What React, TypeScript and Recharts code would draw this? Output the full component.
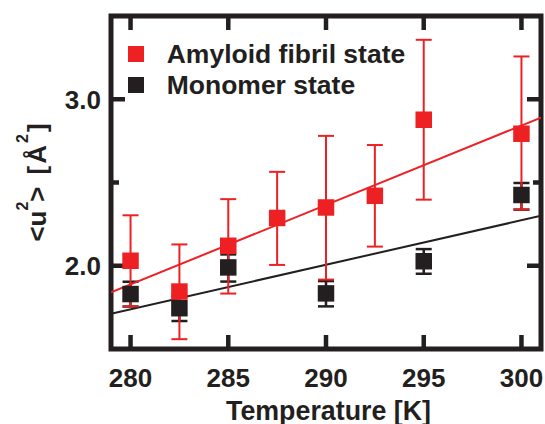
import React from 'react';
import { ComposedChart, XAxis, YAxis, ZAxis, Scatter, Line, ErrorBar, Legend, ReferenceArea, ReferenceLine } from 'recharts';

// ---- data ----
const fibrilT = [280, 282.5, 285, 287.5, 290, 292.5, 295, 300];
const fibrilU2 = [2.03, 1.845, 2.12, 2.287, 2.35, 2.42, 2.877, 2.793];
const fibrilLow = [1.756, 1.559, 1.833, 2.005, 1.917, 2.115, 2.397, 2.338];
const fibrilHigh = [2.303, 2.128, 2.4, 2.564, 2.78, 2.725, 3.357, 3.257];

const monomerT = [280, 282.5, 285, 290, 295, 300];
const monomerU2 = [1.83, 1.745, 1.99, 1.834, 2.027, 2.425];
const monomerLow = [1.755, 1.668, 1.905, 1.756, 1.952, 2.337];
const monomerHigh = [1.904, 1.82, 2.068, 1.908, 2.1, 2.497];

const fibrilFitT = [279, 301];
const fibrilFitU2 = [1.84, 2.89];
const monomerFitT = [279, 301];
const monomerFitU2 = [1.712, 2.3];

const xTicks = [280, 285, 290, 295, 300];
const yMajorTicks = [2.0, 3.0];
const yMinorTicks = [2.5];
const xDomain = [279, 301];
const yDomain = [1.5, 3.5];

const seriesNames = ['Amyloid fibril state', 'Monomer state'];

// ---- styles ----
const RED = '#ed2024';
const INK = '#231f20';
const FONT = '"Liberation Sans", Arial, Helvetica, sans-serif';

const build = (t: number[], u: number[], lo: number[], hi: number[]) =>
  t.map((x, i) => ({ x, y: u[i], err: [u[i] - lo[i], hi[i] - u[i]] }));
const buildFit = (t: number[], u: number[]) => t.map((x, i) => ({ x, y: u[i] }));

const fibrilData = build(fibrilT, fibrilU2, fibrilLow, fibrilHigh);
const monomerData = build(monomerT, monomerU2, monomerLow, monomerHigh);
const fibrilFit = buildFit(fibrilFitT, fibrilFitU2);
const monomerFit = buildFit(monomerFitT, monomerFitU2);
const seriesColors = [RED, INK];

const MAJOR = 14;
const MINOR = 8;
const TW = 4.5;

// inward tick marks drawn at both ends of a reference line
const XTickShape = (p: any) => {
  const top = Math.min(p.y1, p.y2);
  const bot = Math.max(p.y1, p.y2);
  const x = Number(p.x1);
  return (
    <g>
      <rect x={x - TW / 2} y={top} width={TW} height={MAJOR} fill={INK} />
      <rect x={x - TW / 2} y={bot - MAJOR} width={TW} height={MAJOR} fill={INK} />
    </g>
  );
};
const makeYTickShape = (len: number) => (p: any) => {
  const l = Math.min(p.x1, p.x2);
  const r = Math.max(p.x1, p.x2);
  const y = Number(p.y1);
  return (
    <g>
      <rect x={l} y={y - TW / 2} width={len} height={TW} fill={INK} />
      <rect x={r - len} y={y - TW / 2} width={len} height={TW} fill={INK} />
    </g>
  );
};
const YMajorShape = makeYTickShape(MAJOR);
const YMinorShape = makeYTickShape(MINOR);

const BottomLabel = (props: any) => {
  const { x, y, payload } = props;
  return (
    <text x={x} y={y + 37.7} textAnchor="middle" fontSize={26} fontWeight="bold" fontFamily={FONT} fill={INK}>
      {payload.value}
    </text>
  );
};

const LeftLabel = (props: any) => {
  const { x, y, payload } = props;
  return (
    <text x={x - 10} y={y + 9.3} textAnchor="end" fontSize={26} fontWeight="bold" fontFamily={FONT} fill={INK}>
      {Number(payload.value).toFixed(1)}
    </text>
  );
};

const XTitle = (props: any) => {
  const vb = props.viewBox || { x: 111, y: 349, width: 430 };
  return (
    <text x={vb.x + vb.width / 2 + 2.5} y={vb.y + 71} textAnchor="middle" fontSize={26.8} fontWeight="bold" fontFamily={FONT} fill={INK}>
      Temperature [K]
    </text>
  );
};

const YTitle = (props: any) => {
  const vb = props.viewBox || { x: 0, y: 16, width: 111, height: 333 };
  const cx = 46;
  const cy = vb.y + vb.height / 2;
  return (
    <text
      x={cx}
      y={cy}
      transform={`rotate(-90, ${cx}, ${cy})`}
      textAnchor="middle"
      fontSize={26}
      fontWeight="bold"
      fontFamily={FONT}
      fill={INK}
    >
      <tspan>{'<u'}</tspan>
      <tspan dy={-18} fontSize={16}>2</tspan>
      <tspan dy={18}>{'>'}</tspan>
      <tspan dx={12}>[</tspan>
      <tspan dx={2}>Å</tspan>
      <tspan dy={-18} dx={2} fontSize={16}>2</tspan>
      <tspan dy={18} dx={2}>]</tspan>
    </text>
  );
};

const renderLegend = () => (
  <div style={{ fontFamily: FONT, fontWeight: 'bold', fontSize: 26.5, color: INK }}>
    {seriesNames.map((n, i) => (
      <div key={n} style={{ display: 'flex', alignItems: 'center', height: 31, lineHeight: '31px', whiteSpace: 'nowrap' }}>
        <span style={{ display: 'inline-block', width: 16, height: 16, background: seriesColors[i], marginRight: 22.7 }} />
        <span>{n}</span>
      </div>
    ))}
  </div>
);

export default function App() {
  return (
    <div style={{ position: 'absolute', left: 0, top: 0, background: '#fff' }}>
      <ComposedChart width={545} height={424} margin={{ top: 16, right: 4, bottom: 0, left: 0 }}>
        <XAxis
          xAxisId="bottom"
          dataKey="x"
          type="number"
          domain={xDomain}
          ticks={xTicks}
          allowDataOverflow
          orientation="bottom"
          height={75}
          axisLine={false}
          tickLine={false}
          tickSize={0}
          tickMargin={0}
          tick={BottomLabel}
          interval={0}
          label={{ content: XTitle }}
        />
        <YAxis
          yAxisId="left"
          type="number"
          domain={yDomain}
          ticks={yMajorTicks}
          allowDataOverflow
          orientation="left"
          width={111}
          axisLine={false}
          tickLine={false}
          tickSize={0}
          tickMargin={0}
          tick={LeftLabel}
          interval={0}
          label={{ content: YTitle }}
        />
        <ZAxis type="number" range={[272, 272]} />
        <ReferenceArea
          xAxisId="bottom"
          yAxisId="left"
          x1={xDomain[0]}
          x2={xDomain[1]}
          y1={yDomain[0]}
          y2={yDomain[1]}
          fill="none"
          fillOpacity={0}
          stroke={INK}
          strokeWidth={5}
          ifOverflow="visible"
        />
        {xTicks.map((t) => (
          <ReferenceLine key={`xt${t}`} xAxisId="bottom" yAxisId="left" x={t} ifOverflow="visible" shape={XTickShape} />
        ))}
        {yMajorTicks.map((t) => (
          <ReferenceLine key={`yM${t}`} xAxisId="bottom" yAxisId="left" y={t} ifOverflow="visible" shape={YMajorShape} />
        ))}
        {yMinorTicks.map((t) => (
          <ReferenceLine key={`ym${t}`} xAxisId="bottom" yAxisId="left" y={t} ifOverflow="visible" shape={YMinorShape} />
        ))}
        <Line
          xAxisId="bottom"
          yAxisId="left"
          data={monomerFit}
          dataKey="y"
          type="linear"
          stroke={INK}
          strokeWidth={2}
          dot={false}
          activeDot={false}
          legendType="none"
          isAnimationActive={false}
        />
        <Scatter
          xAxisId="bottom"
          yAxisId="left"
          name={seriesNames[1]}
          data={monomerData}
          dataKey="y"
          fill={INK}
          shape="square"
          isAnimationActive={false}
        >
          <ErrorBar dataKey="err" direction="y" width={8} stroke={INK} strokeWidth={2.5} isAnimationActive={false} />
        </Scatter>
        <Line
          xAxisId="bottom"
          yAxisId="left"
          data={fibrilFit}
          dataKey="y"
          type="linear"
          stroke={RED}
          strokeWidth={2}
          dot={false}
          activeDot={false}
          legendType="none"
          isAnimationActive={false}
        />
        <Scatter
          xAxisId="bottom"
          yAxisId="left"
          name={seriesNames[0]}
          data={fibrilData}
          dataKey="y"
          fill={RED}
          shape="square"
          isAnimationActive={false}
        >
          <ErrorBar dataKey="err" direction="y" width={8} stroke={RED} strokeWidth={2} isAnimationActive={false} />
        </Scatter>
        <Legend
          layout="vertical"
          align="center"
          verticalAlign="middle"
          wrapperStyle={{ left: 128, top: 38.5, width: 'auto', height: 'auto' }}
          content={renderLegend}
        />
      </ComposedChart>
    </div>
  );
}
